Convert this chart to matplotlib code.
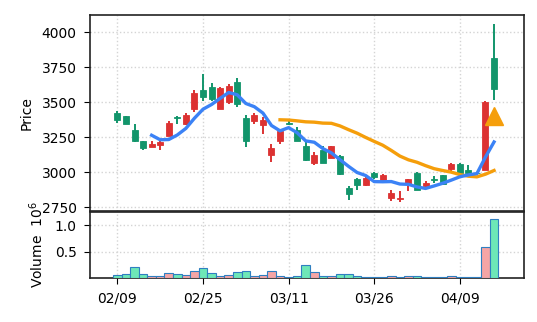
import matplotlib
matplotlib.use("Agg")
import matplotlib.pyplot as plt
import numpy as np
import pandas as pd

# daily OHLC, one row per trading day
opens = [3424, 3403, 3305, 3221, 3181, 3191, 3262, 3398, 3341, 3453,
         3586, 3610, 3453, 3500, 3643, 3389, 3364, 3334, 3126, 3226,
         3353, 3298, 3186, 3062, 3160, 3103, 3114, 2889, 2953, 2905,
         2996, 2943, 2817, 2810, 2912, 2996, 2900, 2953, 2979, 3024,
         3060, 3014, 2993, 3019, 3817]
highs = [3436, 3405, 3346, 3225, 3226, 3221, 3364, 3400, 3424, 3591,
         3705, 3634, 3607, 3631, 3674, 3412, 3424, 3393, 3198, 3310,
         3364, 3322, 3217, 3145, 3186, 3190, 3120, 2900, 2956, 2963,
         2999, 2989, 2869, 2864, 2951, 2999, 2936, 2970, 2982, 3063,
         3063, 3048, 2998, 3508, 4060]
lows = [3353, 3344, 3215, 3155, 3178, 3155, 3258, 3341, 3336, 3431,
        3507, 3507, 3450, 3484, 3464, 3181, 3341, 3274, 3071, 3198,
        3338, 3222, 3080, 3050, 3064, 3100, 2980, 2800, 2876, 2902,
        2950, 2940, 2793, 2786, 2864, 2873, 2897, 2925, 2909, 3007,
        2993, 2988, 2985, 3015, 3519]
closes = [3376, 3346, 3221, 3174, 3203, 3214, 3355, 3384, 3408, 3567,
          3536, 3524, 3603, 3619, 3484, 3226, 3408, 3376, 3174, 3293,
          3341, 3226, 3084, 3126, 3067, 3186, 2984, 2846, 2905, 2960,
          2967, 2979, 2853, 2817, 2948, 2876, 2924, 2943, 2912, 3060,
          2996, 2991, 2991, 3504, 3598]
volumes = [0.064, 0.083, 0.218, 0.083, 0.030, 0.045, 0.100, 0.083, 0.064, 0.140,
           0.186, 0.100, 0.045, 0.064, 0.120, 0.140, 0.030, 0.064, 0.140, 0.030,
           0.010, 0.030, 0.237, 0.120, 0.030, 0.030, 0.083, 0.083, 0.030, 0.010,
           0.025, 0.025, 0.045, 0.010, 0.045, 0.030, 0.010, 0.010, 0.010, 0.045,
           0.025, 0.025, 0.025, 0.590, 1.120]  # x 1e6

tick_pos = [0, 10, 20, 30, 40]
tick_labels = ["02/09", "02/25", "03/11", "03/26", "04/09"]

signal_idx = [44]
signal_price = [3400]

UP = "#dc3232"
DOWN = "#12956b"
UP_VOL = "#f5a5a5"
DOWN_VOL = "#6ee7b7"
FS = 10


def main():
    df = pd.DataFrame({"open": opens, "high": highs, "low": lows,
                       "close": closes, "volume": volumes})
    x = np.arange(len(df))
    up = df["close"] >= df["open"]
    ma5 = df["close"].rolling(5).mean()
    ma20 = df["close"].rolling(20).mean()

    fig = plt.figure(figsize=(5.37, 3.22), dpi=100)
    ax = fig.add_axes([0.1676, 0.3447, 0.8082, 0.6087])
    axv = fig.add_axes([0.1676, 0.1366, 0.8082, 0.2050], sharex=ax)

    colors = np.where(up, UP, DOWN)
    ax.vlines(x, df["low"], df["high"], colors=colors, linewidth=1.4, zorder=2)
    body_lo = np.minimum(df["open"], df["close"])
    body_h = np.maximum((df["close"] - df["open"]).abs(), 4)
    ax.bar(x, body_h, bottom=body_lo, width=0.7, color=colors,
           edgecolor=colors, linewidth=0.6, zorder=3)

    ax.plot(x, ma20, color="#f59e0b", lw=2.4, zorder=4)
    ax.plot(x, ma5, color="#3b82f6", lw=2.4, zorder=4)
    ax.plot(signal_idx, signal_price, marker="^", ms=13, color="#f59e0b",
            linestyle="none", zorder=5)

    lo, hi = df["low"].min(), df["high"].max()
    pad = (hi - lo) * 0.05
    ax.set_ylim(lo - pad, hi + pad)
    ax.set_xlim(-3.2, 47.5)
    ax.set_yticks([2750, 3000, 3250, 3500, 3750, 4000])
    ax.set_ylabel("Price", fontsize=FS, labelpad=6)
    ax.tick_params(axis="x", length=0, labelbottom=False)
    ax.tick_params(axis="y", labelsize=FS, length=4.5, pad=5)
    ax.grid(True, linestyle=":", color="#d4d4d4", lw=1)

    vcolors = np.where(up, UP_VOL, DOWN_VOL)
    axv.bar(x, df["volume"], width=1.0, color=vcolors, edgecolor="#2f7fc1",
            linewidth=0.8, zorder=3)
    axv.set_ylim(0, 1.25)
    axv.set_yticks([0.5, 1.0])
    axv.set_ylabel("Volume  $10^6$", fontsize=FS, labelpad=6)
    axv.set_xticks(tick_pos)
    axv.set_xticklabels(tick_labels)
    axv.tick_params(labelsize=FS, length=4.5, pad=5)
    axv.grid(True, linestyle=":", color="#d4d4d4", lw=1)

    for a in (ax, axv):
        for s in a.spines.values():
            s.set_linewidth(1.2)
            s.set_color("#222222")

    fig.savefig("out.png", dpi=100)
    plt.close(fig)


if __name__ == "__main__":
    main()
